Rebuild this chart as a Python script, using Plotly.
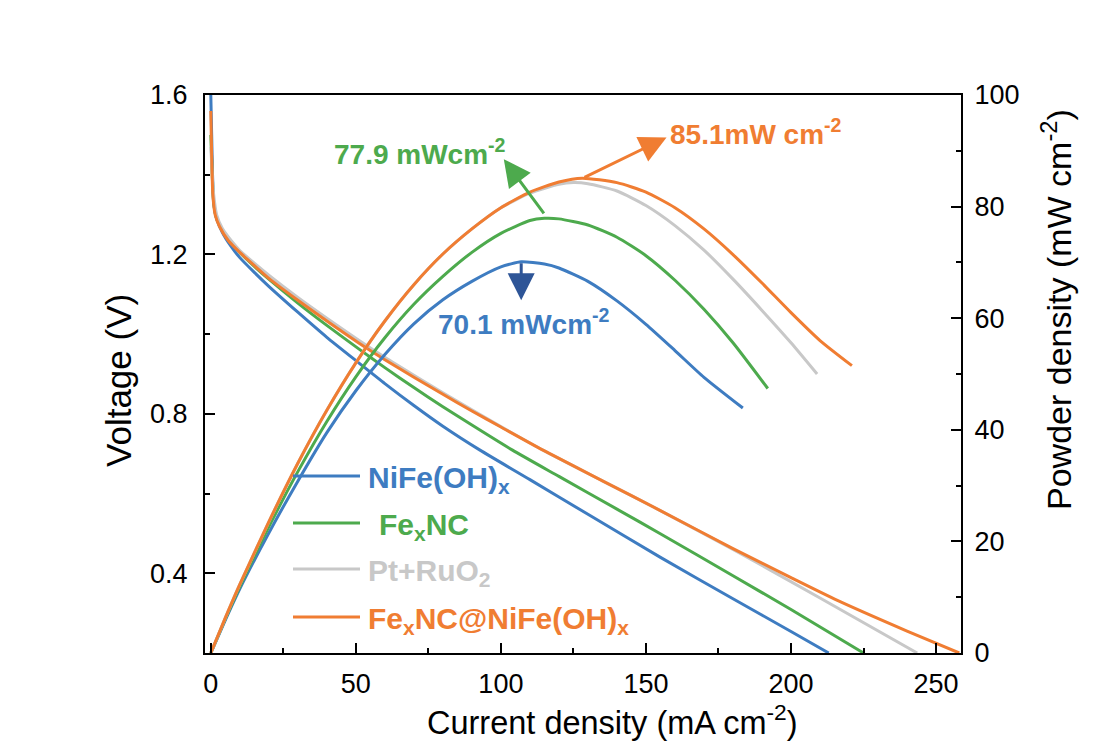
import plotly.graph_objects as go

# ---------------- data ----------------
series_names = ["NiFe(OH)<sub>x</sub>", "Fe<sub>x</sub>NC", "Pt+RuO<sub>2</sub>", "Fe<sub>x</sub>NC@NiFe(OH)<sub>x</sub>"]
colors = ["#3E7CC1", "#4DAA4D", "#C8C8C8", "#F07D32"]

x_title = "Current density (mA cm<sup>-2</sup>)"
y_title = "Voltage (V)"
y2_title = "Powder density (mW cm<sup>-2</sup>)"

# polarization curves (current density mA cm-2, voltage V)
j_v_nife = [0, 0.3, 0.6, 1.0, 2, 4, 7, 10, 15, 20, 30, 40, 51, 60, 70, 80, 92.8, 110, 130, 155, 180, 200, 213]
v_nife = [1.60, 1.50, 1.40, 1.33, 1.29, 1.255, 1.22, 1.192, 1.155, 1.12, 1.055, 0.992, 0.928, 0.876, 0.821, 0.769, 0.709, 0.635, 0.548, 0.44, 0.336, 0.254, 0.20]

j_v_fenc = [0, 0.5, 1, 2, 4, 7, 10, 15, 20, 30, 40, 51, 60, 70, 80, 90, 104, 120, 140, 154.8, 180, 200, 225]
v_fenc = [1.50, 1.40, 1.33, 1.29, 1.262, 1.232, 1.205, 1.17, 1.138, 1.078, 1.022, 0.963, 0.916, 0.866, 0.818, 0.772, 0.709, 0.643, 0.561, 0.50, 0.394, 0.309, 0.20]

j_v_pt = [0, 0.5, 1, 2, 4, 7, 10, 15, 20, 30, 40, 51, 60, 70, 80, 90, 100, 114.5, 135, 154.8, 180, 210, 243.5]
v_pt = [1.47, 1.40, 1.35, 1.30, 1.265, 1.235, 1.21, 1.178, 1.148, 1.092, 1.04, 0.985, 0.942, 0.897, 0.853, 0.81, 0.768, 0.709, 0.632, 0.558, 0.46, 0.338, 0.20]

j_v_comp = [0, 0.3, 0.7, 1.5, 3, 6, 10, 15, 20, 30, 40, 51, 60, 70, 80, 90, 100, 114.5, 135, 154.8, 180, 200, 216, 240, 258]
v_comp = [1.56, 1.45, 1.35, 1.30, 1.27, 1.235, 1.205, 1.172, 1.14, 1.085, 1.033, 0.978, 0.936, 0.892, 0.849, 0.807, 0.767, 0.709, 0.632, 0.558, 0.462, 0.389, 0.332, 0.255, 0.20]

# power density curves (mW cm-2)
j_p_nife = [0, 5, 10, 20, 30, 40, 50, 60, 70, 80, 90, 100, 107, 115, 120, 130, 140, 150, 160, 170, 183.4]
p_nife = [0, 5.9, 11.5, 21.5, 30.8, 39.5, 47.0, 53.5, 59.0, 63.3, 66.6, 69.2, 70.1, 69.7, 69.0, 66.6, 63.1, 58.9, 54.2, 49.4, 43.9]

j_p_fenc = [0, 5, 10, 20, 30, 40, 50, 60, 70, 80, 90, 100, 110, 115, 120, 130, 140, 150, 160, 170, 180, 192]
p_fenc = [0, 6.1, 11.9, 22.6, 32.5, 41.5, 49.5, 56.5, 62.5, 67.5, 71.8, 75.2, 77.5, 77.9, 77.8, 76.7, 74.5, 71.2, 66.8, 61.6, 55.6, 47.4]

j_p_pt = [0, 5, 10, 20, 30, 40, 50, 60, 70, 80, 90, 100, 110, 120, 125, 130, 140, 150, 160, 170, 180, 190, 200, 209]
p_pt = [0, 6.3, 12.3, 23.5, 34.0, 43.5, 52.0, 59.5, 66.0, 71.5, 76.0, 79.8, 82.4, 84.0, 84.3, 84.1, 82.8, 80.2, 76.6, 72.2, 67.0, 61.4, 55.6, 50.0]

j_p_comp = [0, 5, 10, 20, 30, 40, 50, 60, 70, 80, 90, 100, 110, 120, 128, 140, 150, 160, 170, 180, 190, 200, 210, 221]
p_comp = [0, 6.3, 12.3, 23.5, 34.0, 43.5, 52.0, 59.5, 66.0, 71.5, 76.0, 79.8, 82.6, 84.4, 85.1, 84.3, 82.6, 79.8, 76.0, 71.4, 66.3, 61.0, 56.0, 51.5]

x_ticks = [0, 50, 100, 150, 200, 250]
v_ticks = [0.4, 0.8, 1.2, 1.6]
p_ticks = [0, 20, 40, 60, 80, 100]

# peak annotations
peak_labels = ["70.1 mWcm<sup>-2</sup>", "77.9 mWcm<sup>-2</sup>", "85.1mW cm<sup>-2</sup>"]
peak_j = [107, 115.2, 128.3]
peak_p = [70.1, 78.5, 85.1]
label_j = [108, 72, 188]
label_p = [59.3, 89.7, 93.4]
arrow_dj = [0, -14.2, 28.8]
arrow_dp = [-6.9, 10.0, 7.3]
peak_colors = ["#3E7CC1", "#4DAA4D", "#F07D32"]
arrow_colors = ["#2E5597", "#4DAA4D", "#F07D32"]

# ---------------- figure ----------------
fig = go.Figure()
vdata = [(j_v_nife, v_nife), (j_v_fenc, v_fenc), (j_v_pt, v_pt), (j_v_comp, v_comp)]
pdata = [(j_p_nife, p_nife), (j_p_fenc, p_fenc), (j_p_pt, p_pt), (j_p_comp, p_comp)]
for i in range(4):
    jx, vy = vdata[i]
    fig.add_trace(go.Scatter(x=jx, y=vy, mode="lines",
                             line=dict(color=colors[i], width=3, shape="spline", smoothing=0.6),
                             showlegend=False, yaxis="y"))
for i in range(4):
    jx, py = pdata[i]
    fig.add_trace(go.Scatter(x=jx, y=py, mode="lines",
                             line=dict(color=colors[i], width=3, shape="spline", smoothing=0.6),
                             showlegend=False, yaxis="y2"))

FONT = "Liberation Sans, Arial, sans-serif"
OFF = 8  # page body margin
W, H = 1100, 752
L, R, T, B = 205 - OFF, W - (961 - OFF), 95 - OFF, H - (653 - OFF)
pw, ph = W - L - R, H - T - B

def px2paper(px, py):
    return (px - OFF - L) / pw, (H - B - (py - OFF)) / ph

# legend built from shapes + annotations
legend_y = [476, 523, 569, 617]
legend_tx = [366, 377, 366, 366]
shapes = []
annotations = []
for i in range(4):
    x0, y0 = px2paper(293, legend_y[i])
    x1, _ = px2paper(360, legend_y[i])
    shapes.append(dict(type="line", xref="paper", yref="paper", x0=x0, x1=x1, y0=y0, y1=y0,
                       line=dict(color=colors[i], width=3)))
    tx, ty = px2paper(legend_tx[i], legend_y[i] + 3)
    annotations.append(dict(xref="paper", yref="paper", x=tx, y=ty, xanchor="left", yanchor="middle",
                            text="<b>" + series_names[i] + "</b>", showarrow=False,
                            font=dict(family=FONT, size=30, color=colors[i])))

for k in range(3):
    annotations.append(dict(xref="x", yref="y2", x=label_j[k], y=label_p[k], text="<b>" + peak_labels[k] + "</b>",
                            showarrow=False, font=dict(family=FONT, size=28, color=peak_colors[k])))
    annotations.append(dict(xref="x", yref="y2", axref="x", ayref="y2",
                            x=peak_j[k] + arrow_dj[k], y=peak_p[k] + arrow_dp[k],
                            ax=peak_j[k], ay=peak_p[k], text="", showarrow=True,
                            arrowhead=2, arrowsize=1.8, arrowwidth=3, arrowcolor=arrow_colors[k]))

# axis titles as positioned annotations
tx, ty = px2paper(612, 720)
annotations.append(dict(xref="paper", yref="paper", x=tx, y=ty, xanchor="center", yanchor="middle",
                        text=x_title, showarrow=False, font=dict(family=FONT, size=32.5, color="black")))
tx, ty = px2paper(118, 381)
annotations.append(dict(xref="paper", yref="paper", x=tx, y=ty, xanchor="center", yanchor="middle",
                        text=y_title, textangle=-90, showarrow=False, font=dict(family=FONT, size=35, color="black")))
tx, ty = px2paper(1056, 310)
annotations.append(dict(xref="paper", yref="paper", x=tx, y=ty, xanchor="center", yanchor="middle",
                        text=y2_title, textangle=-90, showarrow=False, font=dict(family=FONT, size=34, color="black")))

axis_common = dict(showline=True, linewidth=2, linecolor="black", ticks="inside", ticklen=10, tickwidth=2,
                   tickcolor="black", showgrid=False, zeroline=False,
                   tickfont=dict(family=FONT, size=27, color="black"))

fig.update_layout(
    width=W, height=H,
    margin=dict(l=L, r=R, t=T, b=B),
    paper_bgcolor="white", plot_bgcolor="white",
    xaxis=dict(range=[-2, 258.6], tickvals=x_ticks, mirror=True, ticklabelstandoff=6,
               minor=dict(dtick=25, tick0=0, ticklen=5, tickwidth=2, ticks="inside", tickcolor="black"),
               **axis_common),
    yaxis=dict(range=[0.2, 1.6], tickvals=v_ticks, tickformat=".1f", ticklabelstandoff=10,
               minor=dict(dtick=0.2, tick0=0.2, ticklen=5, tickwidth=2, ticks="inside", tickcolor="black"),
               **axis_common),
    yaxis2=dict(range=[0, 100], tickvals=p_ticks, overlaying="y", side="right", ticklabelstandoff=6,
                minor=dict(dtick=10, tick0=0, ticklen=5, tickwidth=2, ticks="inside", tickcolor="black"),
                **axis_common),
    shapes=shapes,
    annotations=annotations,
)

fig.write_html("out.html")
